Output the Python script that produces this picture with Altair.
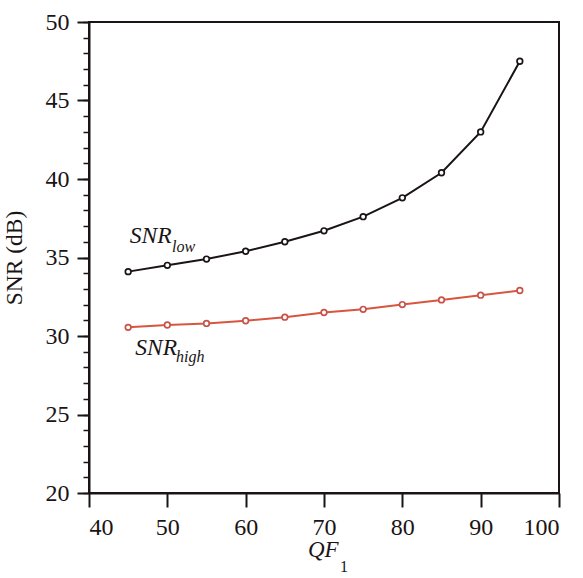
import altair as alt
import pandas as pd

qf = [45, 50, 55, 60, 65, 70, 75, 80, 85, 90, 95]
snr_low = [34.1, 34.5, 34.9, 35.4, 36.0, 36.7, 37.6, 38.8, 40.4, 43.0, 47.5]
snr_high = [30.55, 30.7, 30.8, 30.97, 31.2, 31.5, 31.7, 32.0, 32.3, 32.6, 32.9]

x_ticks = [40, 50, 60, 70, 80, 90, 100]
y_ticks = [20, 25, 30, 35, 40, 45, 50]
y_minor = list(range(20, 51))

FONT = "Times New Roman, Liberation Serif, serif"
BLACK = "#1a1414"
RED = "#d8553f"

df = pd.DataFrame({
    "QF": qf * 2,
    "SNR": snr_low + snr_high,
    "series": ["low"] * len(qf) + ["high"] * len(qf),
})

xs = alt.Scale(domain=[40, 100], nice=False)
ys = alt.Scale(domain=[20, 50], nice=False)

x_axis = alt.Axis(values=x_ticks, title=None, labelFont=FONT, labelFontSize=24,
                  labelColor=BLACK, tickColor=BLACK, domainColor=BLACK,
                  tickSize=14, tickWidth=2, domainWidth=2, grid=False,
                  labelPadding=8, format="d")
y_axis = alt.Axis(values=y_ticks, title="SNR (dB)", titleFont=FONT, titleFontSize=23.5,
                  titleFontWeight="normal", titleColor=BLACK, titlePadding=19,
                  labelFont=FONT, labelFontSize=24, labelColor=BLACK,
                  tickColor=BLACK, domainColor=BLACK, tickSize=12, tickWidth=2,
                  domainWidth=2, grid=False, labelPadding=8, format="d")
y_minor_axis = alt.Axis(values=y_minor, title=None, labels=False, domain=False,
                        tickColor=BLACK, tickSize=6, tickWidth=1.5, grid=False,
                        orient="left")

color_scale = alt.Scale(domain=["low", "high"], range=[BLACK, RED])

lines = alt.Chart(df).mark_line(strokeWidth=2).encode(
    x=alt.X("QF:Q", scale=xs, axis=x_axis),
    y=alt.Y("SNR:Q", scale=ys, axis=y_axis),
    color=alt.Color("series:N", scale=color_scale, legend=None),
    detail="series:N",
)

points = alt.Chart(df).mark_point(shape="circle", filled=True, fill="white",
                                  size=32, strokeWidth=1.7, opacity=1).encode(
    x=alt.X("QF:Q", scale=xs),
    y=alt.Y("SNR:Q", scale=ys, axis=None),
    stroke=alt.Stroke("series:N", scale=alt.Scale(domain=["low", "high"], range=[BLACK, "#c8524a"]), legend=None),
)

minor = alt.Chart(pd.DataFrame({"v": [20]})).mark_point(opacity=0).encode(
    y=alt.Y("v:Q", scale=ys, axis=y_minor_axis),
)

lab = pd.DataFrame({
    "x": [45.2, 45.9],
    "y": [35.92, 28.8],
    "t": ["SNR", "SNR"],
})
sub = pd.DataFrame({
    "x": [50.6, 51.1],
    "y": [35.35, 28.34],
    "t": ["low", "high"],
})

main_text = alt.Chart(lab).mark_text(font=FONT, fontSize=23.5, fontStyle="italic",
                                     align="left", baseline="alphabetic", color=BLACK).encode(
    x=alt.X("x:Q", scale=xs), y=alt.Y("y:Q", scale=ys, axis=None), text="t:N")
sub_text = alt.Chart(sub).mark_text(font=FONT, fontSize=16, fontStyle="italic",
                                    align="left", baseline="alphabetic", color=BLACK).encode(
    x=alt.X("x:Q", scale=xs), y=alt.Y("y:Q", scale=ys, axis=None), text="t:N")

xt = pd.DataFrame({"t": ["QF"]})
xt1 = pd.DataFrame({"t": ["1"]})
qf_text = alt.Chart(xt).mark_text(font=FONT, fontSize=23, fontStyle="italic",
                                  align="left", baseline="alphabetic", color=BLACK).encode(
    x=alt.value(219), y=alt.value(535), text="t:N")
qf_sub = alt.Chart(xt1).mark_text(font=FONT, fontSize=16,
                                  align="left", baseline="alphabetic", color=BLACK).encode(
    x=alt.value(251), y=alt.value(550), text="t:N")

chart = alt.layer(lines, minor, points, main_text, sub_text, qf_text, qf_sub).resolve_axis(
    y="independent"
).resolve_scale(color="independent").properties(
    width=470, height=471,
    autosize=alt.AutoSizeParams(type="none"),
    padding={"left": 89, "top": 22, "right": 24, "bottom": 85},
    background="white",
).configure_view(stroke=BLACK, strokeWidth=2)

chart.save("out.html", embed_options={"renderer": "svg", "actions": False})
